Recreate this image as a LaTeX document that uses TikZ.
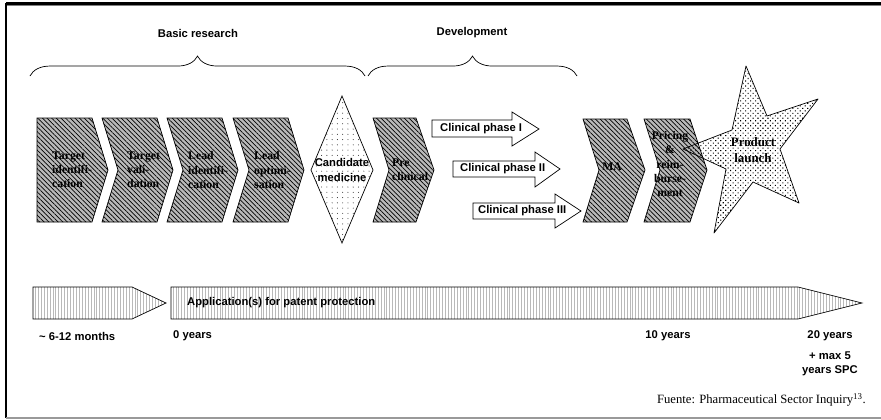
\documentclass[tikz,border=0pt]{standalone}
\usepackage{fontspec}
\setmainfont{Liberation Serif}
\setsansfont{Liberation Sans}
\usepackage{tkz-euclide}
\usetikzlibrary{patterns.meta,decorations.pathreplacing}

\begin{document}
\begin{tikzpicture}[x=0.03cm, y=-0.03cm,
    hatch/.style={draw, line width=0.6pt, preaction={fill=gray!55},
        pattern={Lines[angle=-45,distance=2.8pt,line width=0.6pt]}},
    sparse/.style={draw, line width=0.6pt,
        pattern={Dots[distance=4.5pt,radius=0.45pt]}, pattern color=black!80},
    starfill/.style={draw, line width=0.6pt,
        pattern={Dots[angle=45,distance=3pt,radius=0.65pt]}},
    barfill/.style={draw, line width=0.6pt,
        pattern={Lines[angle=90,distance=2.5pt,line width=0.3pt]}, pattern color=gray!55},
    clin/.style={draw, line width=0.6pt, fill=white},
    brc/.style={decorate, decoration={brace,amplitude=17pt}, line width=0.6pt},
    lbl/.style={font=\sffamily\bfseries\fontsize{9.6}{12}\selectfont, inner sep=0pt},
    steptxt/.style={font=\rmfamily\bfseries\fontsize{10}{12}\selectfont, align=left, inner sep=0pt}]
    \useasboundingbox (0,0) rectangle (881,419);
    % frame
    \draw[line width=1.8pt] (6,3.5) -- (881,3.5);
    \draw[gray, line width=0.8pt] (6,5.6) -- (881,5.6);
    \draw[line width=1.8pt] (6,3) -- (6,418);
    \draw[gray!80, line width=1.2pt] (6,418) -- (881,418);
    % braces
    \draw[brc] (30,76) -- (365,76);
    \draw[brc] (368,76) -- (577,76);
    \node[lbl] (basic) at (198,33) {Basic research};
    \node[lbl] (devel) at (472,33) {Development};
    % steps
    \draw[hatch] (37,118) -- ++(55,0) -- ++(16,52) -- ++(-16,52) -- ++(-55,0) -- cycle;
    \draw[hatch] (102,118) -- ++(55,0) -- ++(16,52) -- ++(-16,52) -- ++(-55,0) -- ++(16,-52) -- cycle;
    \draw[hatch] (167,118) -- ++(55,0) -- ++(16,52) -- ++(-16,52) -- ++(-55,0) -- ++(16,-52) -- cycle;
    \draw[hatch] (233,118) -- ++(55,0) -- ++(16,52) -- ++(-16,52) -- ++(-55,0) -- ++(16,-52) -- cycle;
    \draw[sparse] (342,96) -- (373,170) -- (342,243) -- (311,170) -- cycle;
    \draw[hatch] (373,118) -- ++(43,0) -- ++(18,52) -- ++(-18,52) -- ++(-43,0) -- ++(16,-52) -- cycle;
    \draw[hatch] (583,119) -- ++(44,0) -- ++(18,51) -- ++(-18,52) -- ++(-44,0) -- ++(16,-52) -- cycle;
    \draw[hatch] (644,119) -- ++(46,0) -- ++(17,51) -- ++(-17,52) -- ++(-46,0) -- ++(16,-52) -- cycle;
    % launch
    \tkzDefPoints{746/66/S1,767/116/S2,818/99/S3,780/149/S4,799/203/S5,
        753/182/S6,714/233/S7,726/169/S8,683/149/S9,732/130/S10}
    \tkzDrawPolygon[starfill](S1,S2,S3,S4,S5,S6,S7,S8,S9,S10)
    % clinical phases
    \draw[clin] (432,120) -- (512,120) -- (512,112) -- (539,129) -- (512,146) -- (512,137) -- (432,137) -- cycle;
    \draw[clin] (453,161) -- (535,161) -- (535,152) -- (560,169) -- (535,187) -- (535,177) -- (453,177) -- cycle;
    \draw[clin] (473,203) -- (555,203) -- (555,194) -- (581,211) -- (555,228) -- (555,219) -- (473,219) -- cycle;
    \node[lbl, anchor=west] (ph1) at (440,129) {Clinical phase I};
    \node[lbl, anchor=west] (ph2) at (460,169) {Clinical phase II};
    \node[lbl, anchor=west] (ph3) at (478,211) {Clinical phase III};
    % step labels
    \node[steptxt, anchor=west] (tid) at (52,170) {Target\\identifi-\\cation};
    \node[steptxt, anchor=west] (tva) at (127,170) {Target\\vali-\\dation};
    \node[steptxt, anchor=west] (lid) at (188,170) {Lead\\identifi-\\cation};
    \node[steptxt, anchor=west] (lop) at (254,170) {Lead\\optimi-\\sation};
    \node[lbl, align=center] (cand) at (342,170) {Candidate\\medicine};
    \node[steptxt, anchor=west] (pre) at (392,170) {Pre\\clinical};
    \node[steptxt] (ma) at (612,167) {MA};
    \node[steptxt, align=center] (price) at (670,164) {Pricing\\\&\\reim-\\burse-\\ment};
    \node[steptxt, align=center, font=\rmfamily\bfseries\fontsize{11}{13}\selectfont] (launch) at (753,150) {Product\\launch};
    % patent time line
    \draw[barfill] (33,287) -- (132,287) -- (166,303) -- (132,319) -- (33,319) -- cycle;
    \draw[barfill] (171,287) -- (798,287) -- (862,303) -- (798,319) -- (171,319) -- cycle;
    \node[lbl, anchor=west] (appl) at (187,303) {Application(s) for patent protection};
    \node[lbl, anchor=west] (months) at (39,336) {\textasciitilde\ 6-12 months};
    \node[lbl, anchor=west] (y0) at (173,336) {0 years};
    \node[lbl] (y10) at (668,336) {10 years};
    \node[lbl] (y20) at (830,336) {20 years};
    \node[lbl, align=center] (spc) at (830,364) {+ max 5\\years SPC};
    \node[anchor=east, inner sep=0pt, font=\rmfamily\fontsize{10.8}{13}\selectfont] (src)
        at (866,400) {Fuente: Pharmaceutical Sector Inquiry\textsuperscript{13}.};
\end{tikzpicture}
\end{document}
